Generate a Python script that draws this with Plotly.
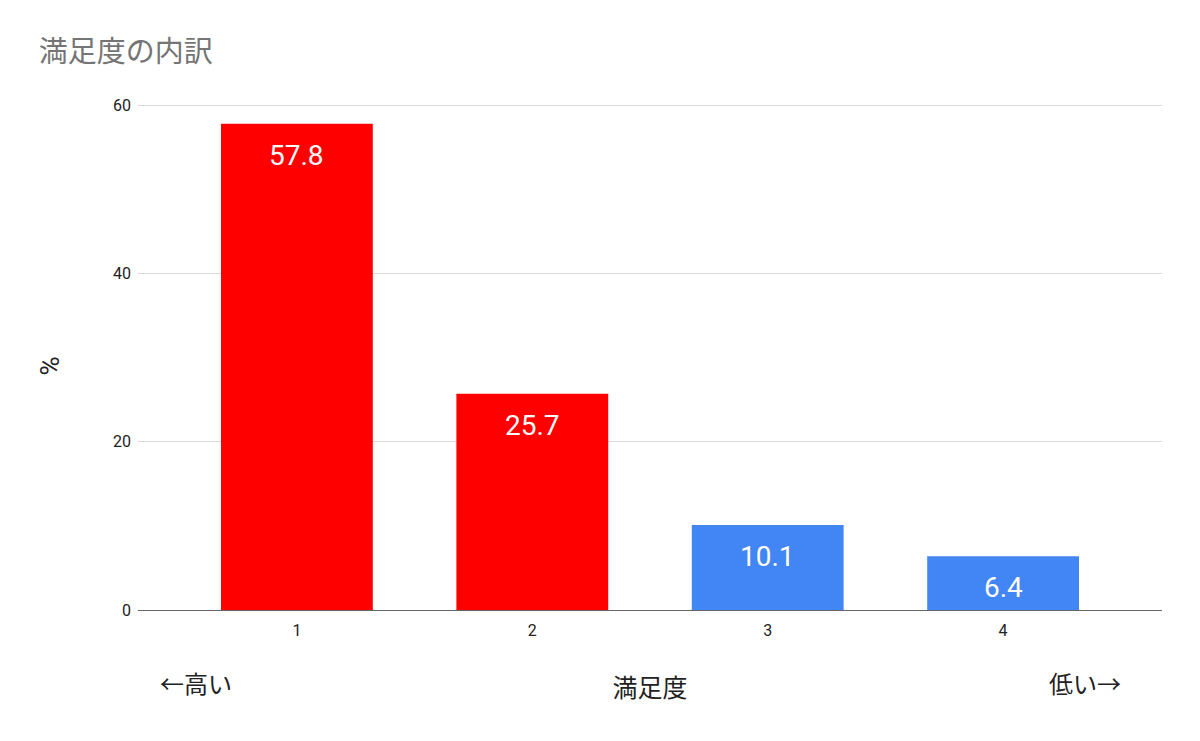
import plotly.graph_objects as go

categories = [1, 2, 3, 4]
values = [57.8, 25.7, 10.1, 6.4]
colors = ["#FF0000", "#FF0000", "#4285F4", "#4285F4"]
y_ticks = [0, 20, 40, 60]

font_family = "Roboto, 'Noto Sans CJK JP', sans-serif"

fig = go.Figure()
fig.add_trace(go.Bar(
    x=categories, y=values, marker=dict(color=colors, line=dict(width=0)),
    width=0.645, hoverinfo="x+y",
))

for c, v in zip(categories, values):
    fig.add_annotation(x=c, y=v, text=str(v), showarrow=False, yanchor="top",
                       yshift=-13, font=dict(size=28, color="white", family=font_family))

fig.add_annotation(x=0.0566, y=-0.147, xref="paper", yref="paper", text="←高い", showarrow=False,
                   xanchor="center", yanchor="middle",
                   font=dict(size=24, color="#222222", family=font_family))
fig.add_annotation(x=0.925, y=-0.147, xref="paper", yref="paper", text="低い→", showarrow=False,
                   xanchor="center", yanchor="middle",
                   font=dict(size=24, color="#222222", family=font_family))
# y-axis title
fig.add_annotation(x=-0.086, y=0.48, xref="paper", yref="paper", text="%", showarrow=False,
                   textangle=-90, xanchor="center", yanchor="middle",
                   font=dict(size=26, color="#222222", family=font_family))

fig.update_layout(
    width=1184, height=725,
    margin=dict(l=130, r=30, t=93, b=123),
    paper_bgcolor="white", plot_bgcolor="white",
    title=dict(text="満足度の内訳", x=0.026, xanchor="left", y=0.939, yanchor="middle",
               font=dict(size=29, color="#757575", family=font_family)),
    font=dict(family=font_family, color="#222222"),
    showlegend=False,
    xaxis=dict(
        range=[0.325, 4.675], tickvals=categories, ticktext=[str(c) for c in categories],
        tickfont=dict(size=16, color="#222222"), showgrid=False, zeroline=False,
        showline=True, linecolor="#666666", linewidth=1, ticks="", ticklen=0,
        ticklabelstandoff=6,
        title=dict(text="満足度", font=dict(size=25, color="#222222"), standoff=40),
    ),
    yaxis=dict(
        range=[0, 60.5], tickvals=y_ticks, tickfont=dict(size=16, color="#222222"),
        showgrid=True, gridcolor="#d9d9d9", zeroline=False, ticks="", ticklabelstandoff=6,
    ),
)

fig.write_html("out.html")
